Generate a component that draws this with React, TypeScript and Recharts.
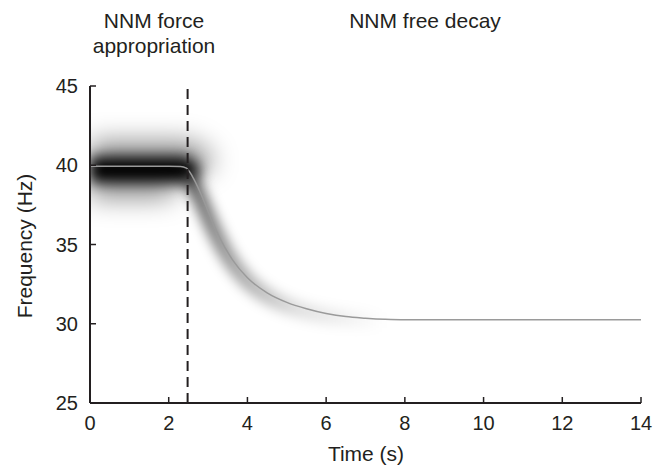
import { LineChart, Line, XAxis, YAxis, ReferenceLine } from "recharts"

// axes
const timeTicks = [0, 2, 4, 6, 8, 10, 12, 14]
const freqTicks = [25, 30, 35, 40, 45]
const switchTime = 2.48

// tracked NNM frequency (thin gray line)
const lineTime = [0, 1, 2, 2.3, 2.45, 2.6, 2.8, 3.05, 3.3, 3.63, 4.0, 4.5, 5.0, 5.5, 6.0, 6.5, 7.0, 7.5, 8.0, 14]
const lineFreq = [39.93, 39.93, 39.93, 39.92, 39.82, 39.3, 38.3, 36.8, 35.4, 34.0, 32.9, 31.95, 31.35, 30.95, 30.65, 30.45, 30.35, 30.28, 30.25, 30.25]

// spectrogram energy, force appropriation phase
const forceTime = [0, 2.35, 2.48, 2.56]
const forceFreq = [39.72, 39.72, 39.5, 39.2]

// spectrogram energy, free decay phase
const decayTime = [2.5, 2.8, 3.1, 3.5, 4.0, 4.5, 5.0, 5.5, 6.0, 6.5, 7.0, 7.5]
const decayFreq = [39.4, 37.9, 36.2, 34.3, 32.7, 31.75, 31.15, 30.75, 30.5, 30.35, 30.25, 30.2]

const zip = (ts: number[], fs: number[]) => ts.map((t, i) => ({ t, f: fs[i] }))
const lineData = zip(lineTime, lineFreq)
const forceData = zip(forceTime, forceFreq)
const decayData = zip(decayTime, decayFreq)

const ink = "#231f20"
const font = "'Liberation Sans', Arial, Helvetica, sans-serif"

function BottomTick({ x, y, payload }: any) {
  return (
    <g>
      <line x1={x} x2={x} y1={y} y2={y - 6} stroke={ink} strokeWidth={1.5} />
      <text x={x} y={y + 27} textAnchor="middle" fontSize={20} fill={ink} fontFamily={font}>
        {payload.value}
      </text>
    </g>
  )
}

function TopTick({ x, y }: any) {
  return <line x1={x} x2={x} y1={y} y2={y + 6} stroke={ink} strokeWidth={1.5} />
}

function LeftTick({ x, y, payload }: any) {
  return (
    <g>
      <line x1={x} x2={x + 6} y1={y} y2={y} stroke={ink} strokeWidth={1.5} />
      <text x={x - 12} y={y + 7} textAnchor="end" fontSize={20} fill={ink} fontFamily={font}>
        {payload.value}
      </text>
    </g>
  )
}

function RightTick({ x, y }: any) {
  return <line x1={x} x2={x - 6} y1={y} y2={y} stroke={ink} strokeWidth={1.5} />
}

export default function App() {
  const axisLine = { stroke: ink, strokeWidth: 2 }
  return (
    <div style={{ position: "absolute", left: 0, top: 0, width: 653, height: 469, background: "#fff" }}>
      <LineChart width={653} height={469} margin={{ top: 86, right: 12, left: 0, bottom: 0 }}>
        <defs>
          <filter id="blurCore" filterUnits="userSpaceOnUse" x={0} y={0} width={653} height={469}>
            <feGaussianBlur stdDeviation={7} />
          </filter>
          <filter id="blurWide" filterUnits="userSpaceOnUse" x={0} y={0} width={653} height={469}>
            <feGaussianBlur stdDeviation={13} />
          </filter>
          <filter id="blurDecay" filterUnits="userSpaceOnUse" x={0} y={0} width={653} height={469}>
            <feGaussianBlur stdDeviation={6} />
          </filter>
          <linearGradient id="decayFade" x1="0" y1="0" x2="1" y2="0">
            <stop offset="0%" stopColor="#000" stopOpacity={0.6} />
            <stop offset="25%" stopColor="#000" stopOpacity={0.35} />
            <stop offset="55%" stopColor="#000" stopOpacity={0.13} />
            <stop offset="100%" stopColor="#000" stopOpacity={0} />
          </linearGradient>
        </defs>
        <XAxis
          dataKey="t"
          type="number"
          domain={[0, 14]}
          ticks={timeTicks}
          interval={0}
          allowDataOverflow
          height={66}
          tickSize={0}
          tickMargin={0}
          tickLine={false}
          axisLine={axisLine}
          tick={<BottomTick />}
        />
        <XAxis
          xAxisId="top"
          orientation="top"
          dataKey="t"
          type="number"
          domain={[0, 14]}
          ticks={timeTicks}
          interval={0}
          allowDataOverflow
          height={0}
          tickSize={0}
          tickMargin={0}
          tickLine={false}
          axisLine={axisLine}
          tick={<TopTick />}
        />
        <YAxis
          type="number"
          domain={[25, 45]}
          ticks={freqTicks}
          interval={0}
          allowDataOverflow
          width={90}
          tickSize={0}
          tickMargin={0}
          tickLine={false}
          axisLine={axisLine}
          tick={<LeftTick />}
        />
        <YAxis
          yAxisId="right"
          orientation="right"
          type="number"
          domain={[25, 45]}
          ticks={freqTicks}
          interval={0}
          allowDataOverflow
          width={0}
          tickSize={0}
          tickMargin={0}
          tickLine={false}
          axisLine={axisLine}
          tick={<RightTick />}
        />
        <Line
          data={forceData}
          dataKey="f"
          type="monotone"
          stroke="#000"
          strokeOpacity={0.42}
          strokeWidth={58}
          filter="url(#blurWide)"
          dot={false}
          activeDot={false}
          isAnimationActive={false}
        />
        <Line
          data={forceData}
          dataKey="f"
          type="monotone"
          stroke="#000"
          strokeWidth={25}
          filter="url(#blurCore)"
          dot={false}
          activeDot={false}
          isAnimationActive={false}
        />
        <Line
          data={decayData}
          dataKey="f"
          type="monotone"
          stroke="url(#decayFade)"
          strokeWidth={16}
          filter="url(#blurDecay)"
          dot={false}
          activeDot={false}
          isAnimationActive={false}
        />
        <Line
          data={lineData}
          dataKey="f"
          type="monotone"
          stroke="#9a9a9a"
          strokeWidth={1.5}
          dot={false}
          activeDot={false}
          isAnimationActive={false}
        />
        <ReferenceLine x={switchTime} stroke={ink} strokeWidth={2} strokeDasharray="10 6" />
        <text x={154} y={28} textAnchor="middle" fontSize={21} fill={ink} fontFamily={font}>NNM force</text>
        <text x={154} y={53} textAnchor="middle" fontSize={21} fill={ink} fontFamily={font}>appropriation</text>
        <text x={425} y={28} textAnchor="middle" fontSize={21} fill={ink} fontFamily={font}>NNM free decay</text>
        <text x={366} y={461} textAnchor="middle" fontSize={21} fill={ink} fontFamily={font}>Time (s)</text>
        <text
          x={32}
          y={246}
          textAnchor="middle"
          fontSize={21}
          fill={ink}
          fontFamily={font}
          transform="rotate(-90 32 246)"
        >
          Frequency (Hz)
        </text>
      </LineChart>
    </div>
  )
}
